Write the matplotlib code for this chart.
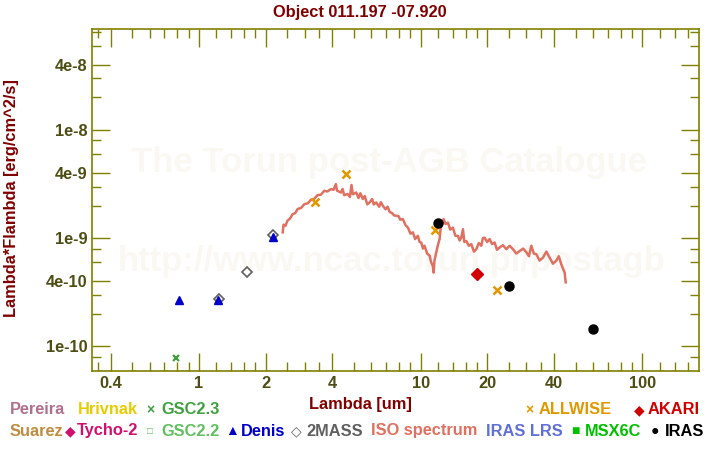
#!/usr/bin/env python3
"""
SED plot of a post-AGB object: photometry and ISO spectrum.
"""

import matplotlib
matplotlib.use("Agg")
import matplotlib.pyplot as plt
from matplotlib.ticker import FixedLocator, FixedFormatter, NullFormatter

plt.rcParams["font.family"] = ["Liberation Sans", "DejaVu Sans"]

# ISO spectrum: wavelength [um], lambda*F_lambda [1e-9 erg/cm^2/s]
iso_wave = [
    2.39, 2.41, 2.46, 2.51, 2.58, 2.65, 2.72, 2.79, 2.89, 2.99, 3.10, 3.20,
    3.31, 3.43, 3.55, 3.68, 3.80, 3.94, 4.05, 4.15, 4.20, 4.37, 4.45, 4.52,
    4.69, 4.80, 4.88, 4.95, 5.13, 5.25, 5.35, 5.49, 5.60, 5.75, 5.89, 6.05,
    6.15, 6.31, 6.50, 6.62, 6.76, 6.95, 7.10, 7.25, 7.45, 7.60, 7.77, 7.95,
    8.10, 8.32, 8.55, 8.77, 9.00, 9.23, 9.45, 9.72, 9.90, 10.07, 10.25, 10.42,
    10.70, 10.98, 11.15, 11.36, 11.45, 11.55, 11.77, 11.95, 12.18, 12.30,
    12.40, 12.70, 12.95, 13.28, 13.60, 13.99, 14.35, 14.73, 15.00, 15.26,
    15.52, 15.75, 16.07, 16.50, 16.93, 17.40, 17.84, 18.30, 18.78, 19.10,
    19.44, 19.95, 20.48, 21.00, 21.57, 22.10, 22.72, 23.50, 24.36, 25.20,
    26.09, 27.00, 27.97, 29.00, 29.99, 30.80, 31.57, 32.40, 33.26, 34.40,
    35.63, 36.90, 38.19, 39.50, 40.94, 42.00, 43.12, 43.90, 44.62, 45.09,
]
iso_flux = [
    1.13, 1.33, 1.30, 1.45, 1.52, 1.67, 1.70, 1.86, 1.90, 2.06, 2.10, 2.26,
    2.30, 2.50, 2.52, 2.74, 2.70, 2.84, 2.80, 3.16, 2.75, 2.64, 2.85, 2.50,
    2.56, 2.40, 3.10, 2.55, 2.64, 2.35, 2.60, 2.30, 2.45, 2.05, 2.14, 2.30,
    2.05, 2.14, 1.95, 2.15, 1.99, 1.85, 1.95, 1.75, 1.70, 1.62, 1.61, 1.60,
    1.48, 1.50, 1.32, 1.25, 1.10, 1.13, 0.98, 1.05, 0.92, 0.91, 0.80, 0.85,
    0.72, 0.69, 0.60, 0.55, 0.48, 0.62, 0.74, 0.85, 0.98, 1.20,
    1.30, 1.50, 1.35, 1.39, 1.20, 1.25, 1.05, 1.05, 0.95, 1.01,
    1.21, 0.92, 0.94, 0.85, 0.88, 0.75, 0.79, 0.90, 0.85, 1.00,
    1.01, 0.92, 0.98, 0.88, 0.91, 0.78, 0.82, 0.86, 0.79, 0.85,
    0.79, 0.72, 0.76, 0.80, 0.74, 0.68, 0.85, 0.72, 0.71, 0.62,
    0.66, 0.75, 0.66, 0.58, 0.62, 0.68, 0.57, 0.52, 0.48, 0.39,
]

# photometry: wavelength [um], lambda*F_lambda [1e-9 erg/cm^2/s]
allwise_wave = [3.35, 4.60, 11.6, 22.1]
allwise_flux = [2.17, 3.94, 1.19, 0.332]
iras_wave = [12.0, 25.0, 59.7]
iras_flux = [1.38, 0.362, 0.145]
akari_wave = [17.95]
akari_flux = [0.464]
denis_wave = [0.818, 1.227, 2.15]
denis_flux = [0.268, 0.265, 1.017]
twomass_wave = [1.233, 1.658, 2.15]
twomass_flux = [0.274, 0.487, 1.073]
gsc23_wave = [0.793]
gsc23_flux = [0.078]

x_major = [0.4, 1, 2, 4, 10, 20, 40, 100]
x_major_labels = ["0.4", "1", "2", "4", "10", "20", "40", "100"]
x_minor = [0.35, 0.5, 0.6, 0.7, 0.8, 0.9, 1.2, 1.4, 1.6, 1.8, 2.5, 3, 3.5,
           5, 6, 7, 8, 9, 12, 14, 16, 18, 25, 30, 35, 50, 60, 70, 80, 90,
           120, 140, 160]
y_major = [1e-10, 4e-10, 1e-9, 4e-9, 1e-8, 4e-8]
y_major_labels = ["1e-10", "4e-10", "1e-9", "4e-9", "1e-8", "4e-8"]
y_minor = [8e-11, 2e-10, 3e-10, 6e-10, 8e-10, 2e-9, 3e-9, 6e-9, 8e-9,
           2e-8, 3e-8, 6e-8, 8e-8]

AXIS_COLOR = "#808000"
LABEL_COLOR = "#4d4d14"
TITLE_COLOR = "#800000"
FS = 11.8


def scale(values):
    return [v * 1e-9 for v in values]


fig = plt.figure(figsize=(7.2, 4.5), dpi=100)
ax = fig.add_axes([92 / 720, 79 / 450, 607 / 720, 342 / 450])
ax.set_xscale("log")
ax.set_yscale("log")
ax.set_xlim(0.33, 180)
ax.set_ylim(5.9e-11, 8.6e-8)

# faint watermark
ax.text(0.49, 0.61, "The Torun post-AGB Catalogue", transform=ax.transAxes,
        ha="center", va="center", fontsize=25, fontweight="bold",
        color="#faf8f3", zorder=0)
ax.text(0.493, 0.32, "http://www.ncac.torun.pl/postagb",
        transform=ax.transAxes, ha="center", va="center", fontsize=25,
        fontweight="bold", color="#faf8f3", zorder=0)

ax.plot(iso_wave, scale(iso_flux), color="#e07060", lw=1.8, zorder=2)
ax.plot(gsc23_wave, scale(gsc23_flux), ls="none", marker="x", ms=5,
        mew=1.6, color="#40a040", zorder=3)
ax.plot(twomass_wave, scale(twomass_flux), ls="none", marker="D", ms=5,
        mfc="none", mec="#606060", mew=1.2, zorder=3)
ax.plot(denis_wave, scale(denis_flux), ls="none", marker="^", ms=5.5,
        color="#0000c8", zorder=4)
ax.plot(allwise_wave, scale(allwise_flux), ls="none", marker="x", ms=6,
        mew=1.8, color="#e09800", zorder=4)
ax.plot(akari_wave, scale(akari_flux), ls="none", marker="D", ms=6,
        color="#d00000", zorder=4)
ax.plot(iras_wave, scale(iras_flux), ls="none", marker="o", ms=6.5,
        color="black", zorder=5)

ax.xaxis.set_major_locator(FixedLocator(x_major))
ax.xaxis.set_major_formatter(FixedFormatter(x_major_labels))
ax.xaxis.set_minor_locator(FixedLocator(x_minor))
ax.xaxis.set_minor_formatter(NullFormatter())
ax.yaxis.set_major_locator(FixedLocator(y_major))
ax.yaxis.set_major_formatter(FixedFormatter(y_major_labels))
ax.yaxis.set_minor_locator(FixedLocator(y_minor))
ax.yaxis.set_minor_formatter(NullFormatter())

ax.tick_params(which="both", direction="in", top=True, right=True,
               color=AXIS_COLOR, width=1.0, labelcolor=LABEL_COLOR,
               labelsize=FS)
ax.tick_params(which="major", length=13)
ax.tick_params(which="minor", length=6.5)
ax.tick_params(axis="x", which="major", pad=3.5)
ax.tick_params(axis="y", which="major", pad=3)
for lab in ax.get_xticklabels() + ax.get_yticklabels():
    lab.set_fontweight("bold")
for spine in ax.spines.values():
    spine.set_color(AXIS_COLOR)
    spine.set_linewidth(1.2)

fig.text(0.5, 1 - 12 / 450, "Object 011.197 -07.920", ha="center",
         va="center", fontsize=FS, fontweight="bold", color=TITLE_COLOR)
fig.text(360 / 720, 1 - 405 / 450, "Lambda [um]", ha="center", va="center",
         fontsize=FS, fontweight="bold", color=TITLE_COLOR)
fig.text(12 / 720, 1 - 198 / 450, "Lambda*Flambda [erg/cm^2/s]",
         ha="center", va="center", rotation=90, fontsize=FS,
         fontweight="bold", color=TITLE_COLOR)

# legend: (marker glyph, glyph size, marker x, label, label x, row y, color)
legend_rows = [
    ("", 0, 0, "Pereira", 10, 410, "#b07090"),
    ("", 0, 0, "Hrivnak", 78, 410, "#e6cc00"),
    ("\u00d7", 10, 146, "GSC2.3", 161, 410, "#40a040"),
    ("\u00d7", 10, 525, "ALLWISE", 539, 410, "#e09800"),
    ("\u25c6", 10, 634, "AKARI", 648, 410, "#d00000"),
    ("", 0, 0, "Suarez", 10, 431, "#c08c40"),
    ("\u25c6", 10, 65, "Tycho-2", 77, 431, "#d0106e"),
    ("\u25a1", 7, 147, "GSC2.2", 161, 431, "#60c060"),
    ("\u25b2", 10, 225, "Denis", 241, 431, "#0000c8"),
    ("\u25c7", 10, 291, "2MASS", 306, 431, "#606060"),
    ("", 0, 0, "ISO spectrum", 371, 431, "#e07060"),
    ("", 0, 0, "IRAS LRS", 486, 431, "#6070d8"),
    ("\u25a0", 10, 571, "MSX6C", 585, 431, "#00c000"),
    ("\u25cf", 10, 651, "IRAS", 665, 431, "black"),
]
for glyph, gsize, gx, label, lx, ry, col in legend_rows:
    if glyph:
        fig.text(gx / 720, 1 - ry / 450, glyph, ha="left", va="center",
                 fontsize=gsize, fontweight="bold", color=col)
    fig.text(lx / 720, 1 - ry / 450, label, ha="left", va="center",
             fontsize=FS, fontweight="bold", color=col)

fig.savefig("out.png", dpi=100)
plt.close(fig)
